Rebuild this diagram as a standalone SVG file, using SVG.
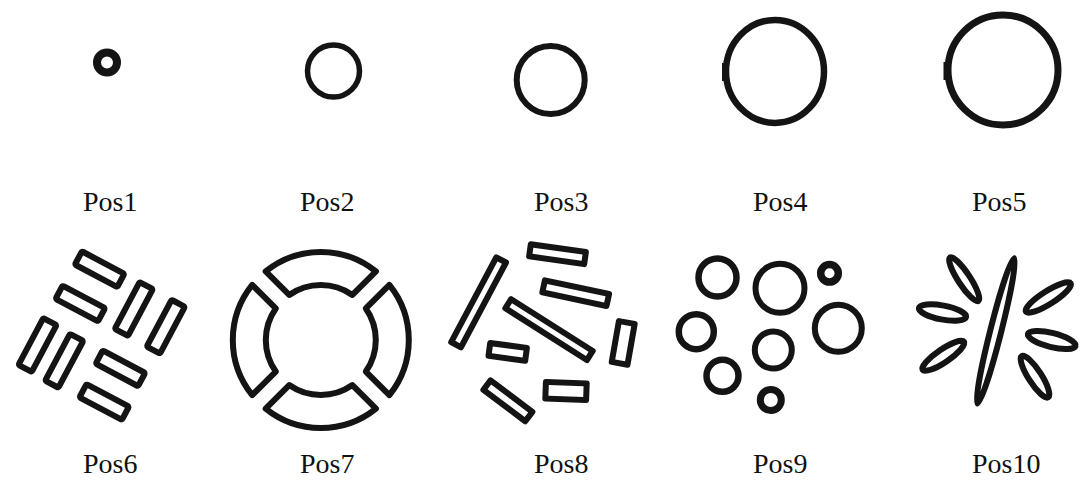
<svg xmlns="http://www.w3.org/2000/svg" width="1080" height="481" viewBox="0 0 1080 481">
<style>
.s{fill:none;stroke:#141414;stroke-width:6;stroke-linejoin:round}
.t{font-family:"Liberation Serif","Times New Roman",serif;font-size:28px;fill:#111}
.k{fill:#141414}
</style>
<defs>
<rect id="h6" x="-24" y="-7.5" width="48" height="15" rx="1.5"/>
<rect id="v6" x="-26.5" y="-7.5" width="53" height="15" rx="1.5"/>
<path id="seg7" d="M68.58 -55.14 A88 88 0 0 1 68.58 55.14 L45.02 31.59 A55 55 0 0 0 45.02 -31.59 Z"/>
</defs>
<rect width="1080" height="481" fill="#fff"/>

<g id="pos1">
<circle class="s" cx="107" cy="62.5" r="10" style="stroke-width:8"/>
<text class="t" x="83" y="211">Pos1</text>
</g>
<g id="pos2">
<circle class="s" cx="333.5" cy="71" r="26" style="stroke-width:5.5"/>
<text class="t" x="300" y="211">Pos2</text>
</g>
<g id="pos3">
<circle class="s" cx="550.7" cy="80" r="34"/>
<text class="t" x="534" y="211">Pos3</text>
</g>
<g id="pos4">
<ellipse class="s" cx="775" cy="71.4" rx="49" ry="51.5" style="stroke-width:6.5"/>
<rect class="k" x="722" y="63" width="6.5" height="18"/>
<text class="t" x="753" y="211">Pos4</text>
</g>
<g id="pos5">
<circle class="s" cx="1003" cy="70" r="55" style="stroke-width:7"/>
<rect class="k" x="943.5" y="62" width="7" height="18"/>
<text class="t" x="972" y="211">Pos5</text>
</g>

<g id="pos6" class="s">
<use href="#h6" transform="translate(99.6 269.2) rotate(28)"/>
<use href="#h6" transform="translate(80.3 303.5) rotate(28)"/>
<use href="#v6" transform="translate(133.8 309) rotate(-62)"/>
<use href="#v6" transform="translate(165.8 326.7) rotate(-62)"/>
<use href="#v6" transform="translate(37.5 345) rotate(-62)"/>
<use href="#v6" transform="translate(64.2 360.8) rotate(-62)"/>
<use href="#h6" transform="translate(120.4 368.3) rotate(28)"/>
<use href="#h6" transform="translate(104.2 402) rotate(28)"/>
</g>
<text class="t" x="83" y="473">Pos6</text>

<g id="pos7" class="s">
<use href="#seg7" transform="translate(320.8 340)"/>
<use href="#seg7" transform="translate(320.8 340) rotate(90)"/>
<use href="#seg7" transform="translate(320.8 340) rotate(180)"/>
<use href="#seg7" transform="translate(320.8 340) rotate(270)"/>
</g>
<text class="t" x="300" y="473">Pos7</text>

<g id="pos8" class="s">
<rect x="-48" y="-5.5" width="96" height="11" transform="translate(478.6 302.3) rotate(-62)"/>
<rect x="-27.8" y="-6.1" width="55.6" height="12.2" transform="translate(557.5 254.2) rotate(8)"/>
<rect x="-32.8" y="-6.1" width="65.6" height="12.2" transform="translate(575.7 293.2) rotate(12)"/>
<rect x="-48.3" y="-5.4" width="96.6" height="10.8" transform="translate(549 329.6) rotate(32.4)"/>
<rect x="-20.7" y="-8" width="41.4" height="16" transform="translate(623.2 342.9) rotate(-80)"/>
<rect x="-18.5" y="-6.5" width="37" height="13" transform="translate(507.7 351.9) rotate(7.6)"/>
<rect x="-26.2" y="-5.9" width="52.4" height="11.8" transform="translate(507.9 400.8) rotate(37)"/>
<rect x="-20.4" y="-8.3" width="40.8" height="16.6" transform="translate(566 391) rotate(2)"/>
</g>
<text class="t" x="534" y="473">Pos8</text>

<g id="pos9" class="s">
<circle cx="717.5" cy="277.5" r="19" style="stroke-width:6.5"/>
<circle cx="780" cy="288.3" r="24.5"/>
<circle cx="829.5" cy="273.3" r="8.8" style="stroke-width:7.5"/>
<circle cx="696.3" cy="331.7" r="17.5" style="stroke-width:6.5"/>
<circle cx="838.3" cy="328.3" r="23.5"/>
<circle cx="773.3" cy="350" r="18.5"/>
<circle cx="722.5" cy="375.8" r="16" style="stroke-width:6.5"/>
<circle cx="770.8" cy="400" r="10.5" style="stroke-width:7"/>
</g>
<text class="t" x="753" y="473">Pos9</text>

<g id="pos10" class="s">
<ellipse cx="0" cy="0" rx="75" ry="5.5" transform="translate(995.8 330.8) rotate(-75.8)"/>
<ellipse cx="0" cy="0" rx="26" ry="6" transform="translate(964.2 279.2) rotate(56.8)"/>
<ellipse cx="0" cy="0" rx="24" ry="7" transform="translate(942.5 312.5) rotate(10.7)"/>
<ellipse cx="0" cy="0" rx="25" ry="6.5" transform="translate(943.3 355.8) rotate(-34.2)"/>
<ellipse cx="0" cy="0" rx="26.5" ry="6.5" transform="translate(1048.3 297.5) rotate(-32.3)"/>
<ellipse cx="0" cy="0" rx="24.5" ry="7" transform="translate(1051.7 340) rotate(14)"/>
<ellipse cx="0" cy="0" rx="24.5" ry="6.5" transform="translate(1035 376.7) rotate(57.3)"/>
</g>
<text class="t" x="972" y="473">Pos10</text>
</svg>
